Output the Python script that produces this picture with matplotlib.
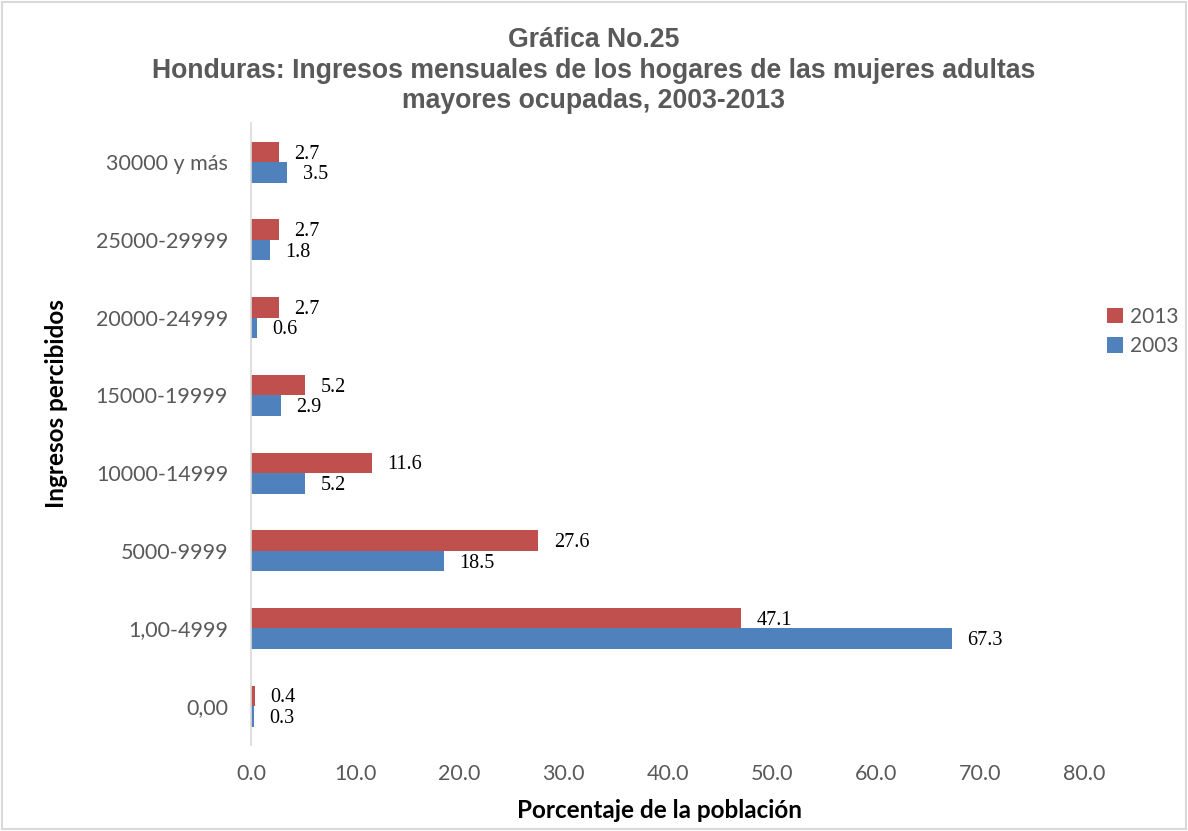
import numpy as np
import matplotlib
matplotlib.use('Agg')
import matplotlib.pyplot as plt
from matplotlib.patches import Rectangle

# ── datos ──
categorias = ["0,00", "1,00-4999", "5000-9999", "10000-14999",
              "15000-19999", "20000-24999", "25000-29999", "30000 y más"]
valores_2013 = [0.4, 47.1, 27.6, 11.6, 5.2, 2.7, 2.7, 2.7]
valores_2003 = [0.3, 67.3, 18.5, 5.2, 2.9, 0.6, 1.8, 3.5]
ticks_x = [0, 10, 20, 30, 40, 50, 60, 70, 80]

ROJO = '#C0504D'
AZUL = '#4F81BD'
GRIS = '#595959'
FUENTE_EJE = 'Lato'

fig = plt.figure(figsize=(11.88, 8.31), dpi=100)
ax = fig.add_axes([0.2113, 0.1035, 0.7012, 0.748])

y = np.arange(len(categorias))
h = 0.264
b13 = ax.barh(y + h / 2, valores_2013, height=h, color=ROJO, label='2013')
b03 = ax.barh(y - h / 2, valores_2003, height=h, color=AZUL, label='2003')

# etiquetas de valor
for barras in (b13, b03):
    for rect in barras:
        v = rect.get_width()
        ax.annotate(f'{v:.1f}', (v, rect.get_y() + rect.get_height() / 2),
                    xytext=(11, -1.5), textcoords='offset points',
                    ha='left', va='center', fontsize=14.5,
                    family='Liberation Serif', color='black')

ax.set_xlim(0, 80)
ax.set_ylim(-0.5, len(categorias) - 0.5)
ax.set_xticks(ticks_x)
ax.set_xticklabels([f'{t:.1f}' for t in ticks_x])
ax.set_yticks(y)
ax.set_yticklabels(categorias)
ax.tick_params(axis='both', length=0, labelsize=15.5, labelcolor=GRIS)
ax.tick_params(axis='x', pad=14)
ax.tick_params(axis='y', pad=16.5)
for lbl in ax.get_xticklabels() + ax.get_yticklabels():
    lbl.set_family(FUENTE_EJE)

for lado in ('top', 'right', 'bottom'):
    ax.spines[lado].set_visible(False)
ax.spines['left'].set_color('#D9D9D9')
ax.spines['left'].set_linewidth(1.2)

ax.set_xlabel('Porcentaje de la población', fontsize=17.5, fontweight='bold',
              family=FUENTE_EJE, va='center')
ax.xaxis.set_label_coords(0.49, -0.105)
ax.set_ylabel('Ingresos percibidos', fontsize=17.5, fontweight='bold',
              family=FUENTE_EJE, va='center')
ax.yaxis.set_label_coords(-0.234, 0.55)

fig.text(0.5, 0.915, 'Gráfica No.25\nHonduras: Ingresos mensuales de los hogares de las mujeres adultas\n'
         'mayores ocupadas, 2003-2013',
         ha='center', va='center', fontsize=19.2, fontweight='bold',
         family='Liberation Sans', color=GRIS, linespacing=1.22)

leg = fig.legend(handles=[b13, b03], loc='center left',
                 bbox_to_anchor=(0.932, 0.601), frameon=False,
                 prop={'family': FUENTE_EJE, 'size': 15},
                 handlelength=0.75, handleheight=0.75, handletextpad=0.35,
                 labelspacing=0.45, borderaxespad=0, borderpad=0)
for t in leg.get_texts():
    t.set_color(GRIS)

# borde del gráfico
fig.patches.append(Rectangle((0.002, 0.003), 0.996, 0.994, transform=fig.transFigure,
                             fill=False, edgecolor='#D9D9D9', linewidth=1.5))

fig.savefig('out.png', dpi=100)
